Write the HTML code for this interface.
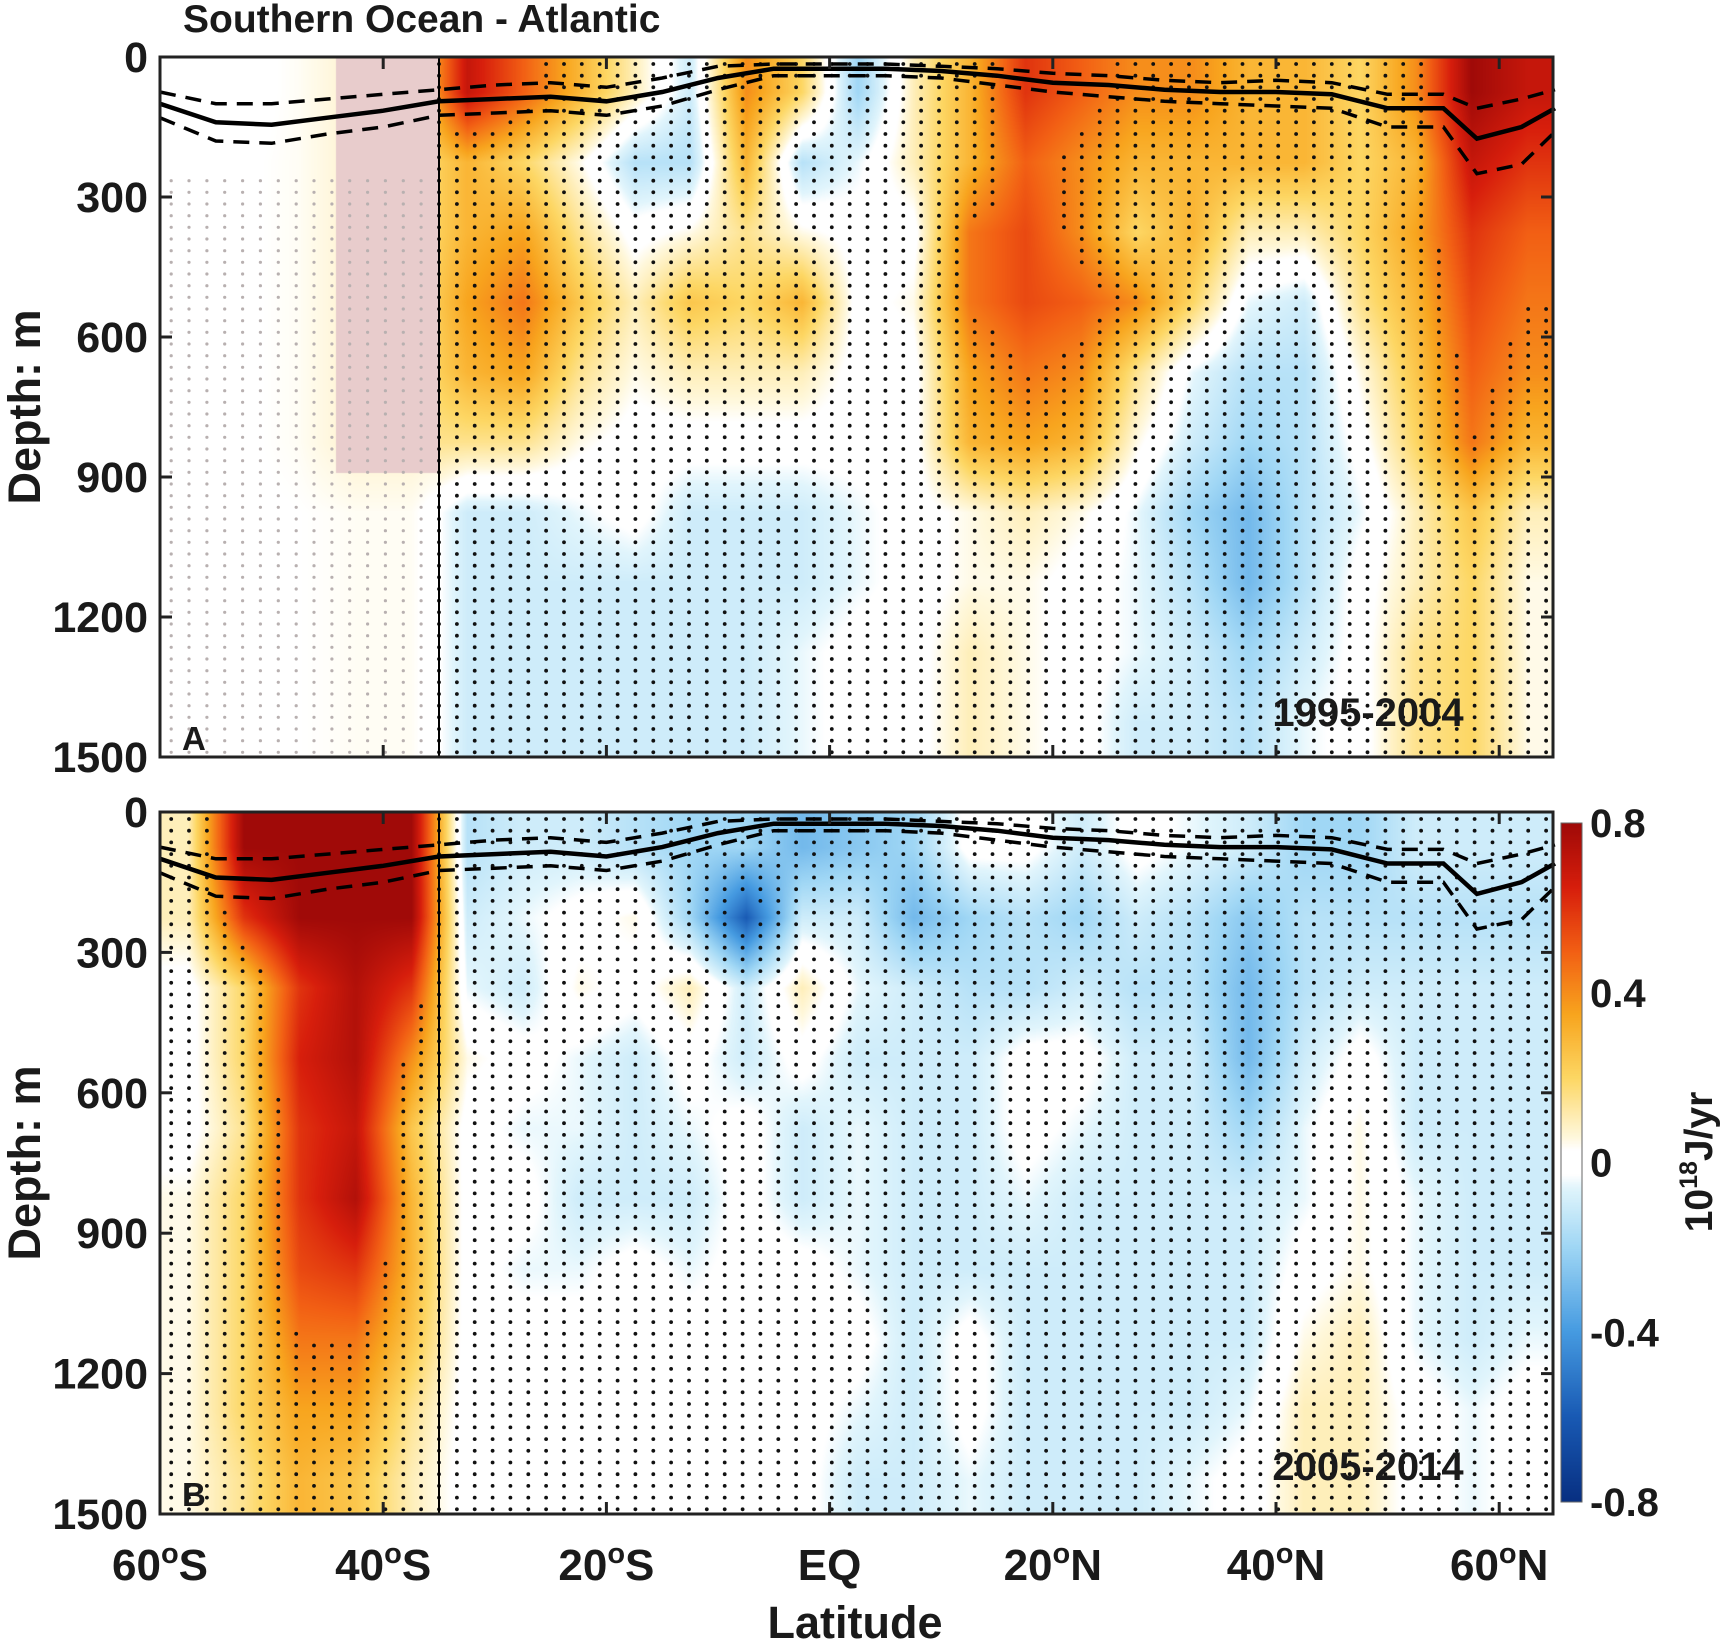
<!DOCTYPE html>
<html><head><meta charset="utf-8">
<style>
body{margin:0;background:#fff;}
#wrap{position:relative;width:1725px;height:1647px;overflow:hidden;font-family:"Liberation Sans",Arial,sans-serif;}
canvas{position:absolute;}
svg{position:absolute;left:0;top:0;}
</style></head>
<body>
<div id="wrap">
<canvas id="cA"></canvas>
<canvas id="cB"></canvas>
<canvas id="cbar"></canvas>
<svg id="svg" width="1725" height="1647"></svg>
</div>
<script>
// ---- data ----
const lats = [-57.5,-52.5,-47.5,-42.5,-37.5,-32.5,-27.5,-22.5,-17.5,-12.5,-7.5,-2.5,2.5,7.5,12.5,17.5,22.5,27.5,32.5,37.5,42.5,47.5,52.5,57.5,62.5];
const depths = [75,225,375,525,675,825,975,1125,1275,1425];
const valuesA = [
[0,0,0.05,0.15,0.15, 0.7,0.5,0.3,0.1,-0.1,0.4,0.2,-0.2,0.1,0.3,0.6,0.5,0.4,0.4,0.3,0.3,0.2,0.4,0.8,0.7],
[0,0.02,0.05,0.15,0.15, 0.3,0.2,0.05,-0.15,-0.15,0.3,-0.15,-0.05,0.1,0.3,0.5,0.4,0.3,0.3,0.3,0.3,0.2,0.3,0.7,0.6],
[0,0.02,0.05,0.15,0.15, 0.3,0.35,0.15,0,0.05,0.15,0.05,0,0,0.45,0.55,0.4,0.2,0.3,0.1,0.1,0.2,0.35,0.6,0.5],
[0,0.02,0.05,0.15,0.15, 0.35,0.45,0.25,0.1,0.25,0.2,0.3,0,0.05,0.45,0.55,0.5,0.4,0.2,-0.05,-0.1,0.15,0.3,0.55,0.45],
[0,0.02,0.05,0.15,0.15, 0.3,0.35,0.15,0.05,0.1,0.1,0.1,0,0,0.35,0.45,0.4,0.15,-0.05,-0.15,-0.15,0.05,0.25,0.5,0.4],
[0,0.02,0.05,0.15,0.15, 0.15,0.15,0.05,0,0,0,0,0,0,0.3,0.35,0.3,0.05,-0.1,-0.2,-0.15,0,0.2,0.45,0.3],
[0,0.02,0.03,0.05,0.05, -0.1,-0.1,-0.05,0,-0.1,-0.1,-0.1,-0.05,0,0.05,0.1,0.05,-0.05,-0.2,-0.3,-0.15,-0.05,0.1,0.25,0.1],
[0,0.02,0.03,0.05,0.05, -0.1,-0.1,-0.1,-0.1,-0.1,-0.1,-0.1,-0.05,0,0.05,0.05,0,-0.05,-0.15,-0.3,-0.15,0,0.1,0.2,0.05],
[0,0.02,0.03,0.05,0.05, -0.1,-0.1,-0.1,-0.1,-0.1,-0.1,-0.05,0,0,0.1,0.05,0,-0.05,-0.1,-0.2,-0.1,0,0.15,0.2,0.05],
[0,0.02,0.03,0.05,0.05, -0.1,-0.1,-0.1,-0.1,-0.1,-0.1,-0.05,0,0,0.1,0.05,0,-0.1,-0.1,-0.15,-0.05,0,0.15,0.2,0.05]
];
const valuesB = [
[0.1,0.8,0.8,0.8,0.8, -0.15,-0.1,-0.1,-0.15,-0.2,-0.2,-0.3,-0.25,-0.2,0,0,-0.1,0,-0.05,-0.1,-0.2,-0.2,-0.1,-0.1,-0.1],
[0.1,0.6,0.8,0.8,0.8, -0.1,-0.05,0,0.05,-0.2,-0.6,-0.1,-0.1,-0.3,-0.2,-0.15,-0.2,-0.1,-0.15,-0.25,-0.15,-0.15,-0.15,-0.15,-0.15],
[0,0.2,0.6,0.75,0.6, -0.05,-0.1,0.05,0,0.1,-0.1,0.1,-0.05,-0.1,-0.15,-0.15,-0.1,-0.15,-0.15,-0.3,-0.15,-0.1,-0.1,-0.1,-0.1],
[0,0.2,0.65,0.75,0.4, 0.05,0,-0.05,-0.1,0,-0.1,0,-0.1,-0.1,-0.1,0,0,-0.1,-0.1,-0.3,-0.1,0,-0.1,-0.1,-0.1],
[0,0.15,0.6,0.7,0.25, 0,-0.05,-0.05,-0.1,-0.05,0,-0.1,-0.05,-0.1,-0.1,0,-0.05,-0.1,-0.1,-0.2,-0.05,0.05,-0.1,-0.1,-0.1],
[0.05,0.2,0.6,0.75,0.3, 0,0,-0.1,-0.1,-0.1,0,-0.1,-0.05,-0.1,-0.1,-0.05,-0.1,-0.1,-0.1,-0.1,-0.05,0.05,-0.05,-0.1,-0.1],
[0.05,0.2,0.55,0.6,0.3, 0,-0.05,-0.05,0,-0.05,0,0,-0.05,-0.1,-0.1,-0.1,-0.1,-0.1,-0.1,-0.1,0,0.05,-0.05,-0.1,-0.1],
[0.05,0.2,0.45,0.45,0.25, 0,0,0,0,0,0,0,0,-0.1,0,-0.1,-0.1,-0.1,-0.1,-0.1,0.05,0.1,-0.05,-0.1,-0.05],
[0.05,0.2,0.35,0.35,0.15, 0,0,0,0,0,0,0,-0.05,-0.1,0,-0.1,-0.1,-0.1,-0.1,-0.05,0.1,0.1,0,-0.05,0],
[0.05,0.15,0.3,0.25,0.1, 0,0,0,0,0,0,0,-0.1,-0.1,-0.05,-0.1,-0.1,-0.1,-0.05,0,0.1,0.1,0,-0.05,0]
];
const mldLats = [-60,-55,-50,-45,-40,-35,-30,-25,-20,-15,-10,-5,0,5,10,15,20,25,30,35,40,45,50,55,58,62,65];
const mldMean = [100,140,145,130,115,95,90,85,95,75,45,25,25,25,30,40,55,60,70,75,75,80,110,110,175,150,110];
const mldUpper = [75,100,100,90,80,70,60,55,65,45,20,15,15,15,20,25,35,40,50,55,50,55,80,80,110,90,70];
const mldLower = [130,180,185,165,150,125,120,115,125,105,70,40,40,40,45,60,75,85,95,100,105,110,150,150,250,230,160];
const yTicks = [0,300,600,900,1200,1500];
const xTicks = [-60,-40,-20,0,20,40,60];
const xTickLabels = ["60","40","20","EQ","20","40","60"];
const xTickHemis = ["S","S","S","","N","N","N"];
const cbTicks = [0.8,0.4,0,-0.4,-0.8];
const cbTickLabels = ["0.8","0.4","0","-0.4","-0.8"];

// ---- geometry ----
const L=160, R=1553;
const panels=[{id:'A',top:57,bot:757,vals:valuesA,yr:'1995-2004'},{id:'B',top:812,bot:1514,vals:valuesB,yr:'2005-2014'}];
const xOf = lat => L+(lat+60)*11.16;
const latOf = x => (x-L)/11.16-60;
const yOf = (d,p) => p.top+d/1500*(p.bot-p.top);

const stops=[[-0.8,[8,48,130]],[-0.6,[25,90,180]],[-0.4,[70,155,225]],[-0.2,[160,215,245]],[-0.06,[225,245,252]],[-0.03,[255,255,255]],[0.03,[255,255,255]],[0.06,[255,248,220]],[0.2,[253,215,100]],[0.35,[248,165,30]],[0.5,[242,95,20]],[0.65,[215,30,12]],[0.8,[160,10,8]]];
function cmap(v){
  if(v<=stops[0][0])return stops[0][1];
  for(let i=1;i<stops.length;i++){if(v<=stops[i][0]){const a=stops[i-1],b=stops[i];const t=(v-a[0])/(b[0]-a[0]);return a[1].map((c,k)=>c+(b[1][k]-c)*t);}}
  return stops[stops.length-1][1];
}
function interp(vals,lat,d){
  let fi=(lat-lats[0])/5, fj=(d-depths[0])/150;
  fi=Math.max(0,Math.min(lats.length-1,fi)); fj=Math.max(0,Math.min(depths.length-1,fj));
  const i0=Math.min(Math.floor(fi),lats.length-2), j0=Math.min(Math.floor(fj),depths.length-2);
  const ti=fi-i0, tj=fj-j0;
  const a=vals[j0][i0],b=vals[j0][i0+1],c=vals[j0+1][i0],e=vals[j0+1][i0+1];
  return (a*(1-ti)+b*ti)*(1-tj)+(c*(1-ti)+e*ti)*tj;
}
panels.forEach(p=>{
  const cv=document.getElementById('c'+p.id);
  const w=R-L,h=p.bot-p.top;
  cv.width=w;cv.height=h;cv.style.left=L+'px';cv.style.top=p.top+'px';
  const ctx=cv.getContext('2d');const img=ctx.createImageData(w,h);
  for(let y=0;y<h;y++){const d=y/h*1500;for(let x=0;x<w;x++){const lat=latOf(x+L);let col=cmap(interp(p.vals,lat,d));
    if(p.id==='A'&&lat<-35){ if(lat>-44.3&&d<890){col=[232,204,204];} else {col=col.map(c=>c+(255-c)*0.55);} }
    const k=(y*w+x)*4;img.data[k]=col[0];img.data[k+1]=col[1];img.data[k+2]=col[2];img.data[k+3]=255;}}
  ctx.putImageData(img,0,0);
});
// colorbar
(function(){const cv=document.getElementById('cbar');cv.width=21;cv.height=679;cv.style.left='1561px';cv.style.top='823px';
const ctx=cv.getContext('2d');for(let y=0;y<679;y++){const v=0.8-y/678*1.6;const c=cmap(v);ctx.fillStyle=`rgb(${c[0]|0},${c[1]|0},${c[2]|0})`;ctx.fillRect(0,y,21,1);}})();

const svg=document.getElementById('svg');const NS='http://www.w3.org/2000/svg';
function el(t,attrs,parent){const e=document.createElementNS(NS,t);for(const k in attrs)e.setAttribute(k,attrs[k]);(parent||svg).appendChild(e);return e;}
function txt(s,x,y,size,anchor,extra){const t=el('text',Object.assign({x:x,y:y,'font-size':size,'font-weight':'bold','text-anchor':anchor||'start',fill:'#1a1a1a','font-family':'Liberation Sans, Arial, sans-serif'},extra||{}));t.textContent=s;return t;}

panels.forEach(p=>{
  const g=el('g',{});
  
  
  for(let lat=-59;lat<65;lat+=1.6){for(let d=15;d<1500;d+=25){
    const v=interp(p.vals,lat,d);
    if(Math.abs(v)>0.45)continue;
    const gray=(p.id==='A'&&lat<-35);
    if(gray&&d<250)continue;
    el('circle',{cx:xOf(lat).toFixed(1),cy:yOf(d,p).toFixed(1),r:gray?1.6:1.9,fill:gray?'#b8b0b0':'#111'},g);
  }}
  const pts=a=>mldLats.map((la,i)=>xOf(la).toFixed(1)+','+yOf(a[i],p).toFixed(1)).join(' ');
  const m=el('polyline',{points:pts(mldMean),fill:'none',stroke:'#000','stroke-width':4.5});
  
  
  [mldUpper,mldLower].forEach((a,i)=>{const d=el('polyline',{points:pts(a),fill:'none',stroke:'#000','stroke-width':3.5,'stroke-dasharray':'16,10'});
    
    });
  el('line',{x1:xOf(-35),x2:xOf(-35),y1:p.top,y2:p.bot,stroke:'#000','stroke-width':2});
  const fr=el('rect',{x:L,y:p.top,width:R-L,height:p.bot-p.top,fill:'none',stroke:'#222','stroke-width':3});
  
  
  yTicks.forEach(d=>{const y=yOf(d,p);el('line',{x1:L,x2:L+12,y1:y,y2:y,stroke:'#222','stroke-width':3});el('line',{x1:R,x2:R-12,y1:y,y2:y,stroke:'#222','stroke-width':3});
    const t=txt(String(d),148,y+15,43,'end');});
  xTicks.forEach(la=>{const x=xOf(la);el('line',{x1:x,x2:x,y1:p.bot,y2:p.bot-12,stroke:'#222','stroke-width':3});el('line',{x1:x,x2:x,y1:p.top,y2:p.top+12,stroke:'#222','stroke-width':3});});
  const yl=txt('Depth: m',0,0,45,'middle',{transform:`translate(40,${(p.top+p.bot)/2}) rotate(-90)`});
  
  const pl=txt(p.id,182,p.id==='A'?750:1506,33,'start');
  const yr=txt(p.yr,1368,p.id==='A'?726:1480,40,'middle');
});
xTicks.forEach((la,i)=>{const t=txt('',xOf(la),1580,44,'middle');
  const s1=el('tspan',{},t);s1.textContent=xTickLabels[i];
  if(xTickHemis[i]){const s2=el('tspan',{dy:-17,'font-size':29},t);s2.textContent='o';const s3=el('tspan',{dy:17},t);s3.textContent=xTickHemis[i];}});
const xl=txt('Latitude',855,1638,45,'middle');
const tt=txt('Southern Ocean - Atlantic',183,32,39,'start');
cbTicks.forEach((v,i)=>{const y=823+(0.8-v)/1.6*679;const t=txt(cbTickLabels[i],1590,y+14,40,'start');});
el('rect',{x:1561,y:823,width:21,height:679,fill:'none',stroke:'#666','stroke-width':1});
const cu=txt('',0,0,39,'middle',{transform:'translate(1712,1162) rotate(-90)'});

const u1=el('tspan',{},cu);u1.textContent='10';const u2=el('tspan',{dy:-15,'font-size':25},cu);u2.textContent='18';const u3=el('tspan',{dy:15},cu);u3.textContent='J/yr';
</script>
</body></html>
